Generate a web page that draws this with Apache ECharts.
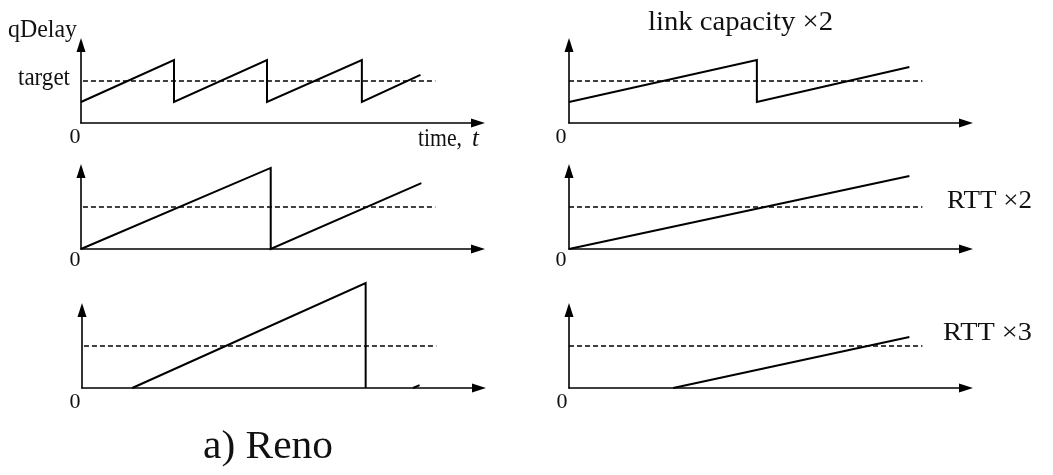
<!DOCTYPE html>
<html><head><meta charset="utf-8">
<script src="https://cdn.jsdelivr.net/npm/echarts@6/dist/echarts.min.js"></script>
<style>html,body{margin:0;padding:0;background:#fff}#c{width:1053px;height:475px}</style>
</head><body><div id="c"></div>
<script>
// ---------------- data (time in RTT units, qDelay in arbitrary units) ----------------
const targetLevel = 2;
const targetXLeft = [-0.065, 3.81];
const targetXRight = [-0.086, 3.80];

// top-left: Reno baseline
const baseX = [0, 1, 1, 2, 2, 3.02, 3.02, 3.65];
const baseY = [1, 3, 1, 3, 1, 3, 1, 2.29];
// top-right: link capacity x2
const linkCapX = [0, 2.02, 2.02, 3.66];
const linkCapY = [1, 3, 1, 2.67];
// middle-left
const rtt2LeftX = [0, 2.04, 2.04, 3.66];
const rtt2LeftY = [0, 3.86, 0, 3.14];
// middle-right: RTT x2
const rtt2RightX = [0, 3.66];
const rtt2RightY = [0, 3.48];
// bottom-left (two pieces)
const rtt3LeftX = [0.54, 3.05, 3.05];
const rtt3LeftY = [0, 5, 0];
const rtt3LeftTailX = [3.56, 3.63];
const rtt3LeftTailY = [0, 0.14];
// bottom-right: RTT x3
const rtt3RightX = [1.12, 3.66];
const rtt3RightY = [0, 2.43];

// text
const yAxisTitle = 'qDelay';
const targetLabel = 'target';
const xAxisTitle = 'time,';
const xAxisVar = 't';
const originLabel = '0';
const titleLinkCap = 'link capacity ×2';
const titleRtt2 = 'RTT ×2';
const titleRtt3 = 'RTT ×3';
const caption = 'a) Reno';

// ---------------- layout ----------------
const pxPerX = 93, pxPerY = 21, gridW = 397, gridH = 78;
const layout = [
  {left: 81, axisY: 123}, {left: 569, axisY: 123},
  {left: 81, axisY: 249}, {left: 569, axisY: 249},
  {left: 82, axisY: 388}, {left: 569, axisY: 388}
];
const panelSeries = [
  [[baseX, baseY]],
  [[linkCapX, linkCapY]],
  [[rtt2LeftX, rtt2LeftY]],
  [[rtt2RightX, rtt2RightY]],
  [[rtt3LeftX, rtt3LeftY], [rtt3LeftTailX, rtt3LeftTailY]],
  [[rtt3RightX, rtt3RightY]]
];
const zip = (xs, ys) => xs.map((x, i) => [x, ys[i]]);
const FONT = '"Liberation Serif", "Times New Roman", serif';

const grids = [], xAxes = [], yAxes = [], series = [];
const axisLine = {show: true, onZero: false, symbol: ['none', 'triangle'], symbolSize: [9, 14],
  lineStyle: {color: '#000', width: 1.6}};
layout.forEach((p, i) => {
  grids.push({left: p.left, top: p.axisY - gridH, width: gridW, height: gridH, containLabel: false});
  const common = {type: 'value', gridIndex: i, min: 0, axisLine: axisLine,
    axisTick: {show: false}, axisLabel: {show: false}, splitLine: {show: false}};
  xAxes.push(Object.assign({}, common, {max: gridW / pxPerX}));
  yAxes.push(Object.assign({}, common, {max: gridH / pxPerY}));
  const tx = (i % 2 === 0) ? targetXLeft : targetXRight;
  series.push({type: 'line', xAxisIndex: i, yAxisIndex: i, data: tx.map(x => [x, targetLevel]),
    showSymbol: false, clip: false, silent: true,
    lineStyle: {color: '#000', width: 1.3, type: [5, 3]}});
  panelSeries[i].forEach(([xs, ys]) => {
    series.push({type: 'line', xAxisIndex: i, yAxisIndex: i, data: zip(xs, ys),
      showSymbol: false, clip: false, silent: true,
      lineStyle: {color: '#000', width: 2, cap: 'butt', join: 'miter'}});
  });
});

// text fitting
const mctx = document.createElement('canvas').getContext('2d');
function txt(text, size, x, y, align, w, style) {
  const font = (style ? style + ' ' : '') + size + 'px ' + FONT;
  let sx = 1;
  if (w) { mctx.font = font; sx = w / mctx.measureText(text).width; }
  return {type: 'text', x: x, y: y, scaleX: sx, silent: true,
    style: {text: text, font: font, fill: '#111', align: align, textAlign: align,
      verticalAlign: 'middle', textVerticalAlign: 'middle'}};
}
const graphics = [
  txt(yAxisTitle, 25, 77, 30, 'right', 69),
  txt(targetLabel, 25, 70, 78, 'right', 52),
  txt(xAxisTitle, 25, 418, 139, 'left', 44),
  txt(xAxisVar, 25, 472, 139, 'left', null, 'italic'),
  txt(titleLinkCap, 27, 648, 23, 'left', 185),
  txt(titleRtt2, 26, 947, 201, 'left', 85),
  txt(titleRtt3, 26, 943, 333, 'left', 89),
  txt(caption, 40, 203, 447, 'left', 130),
  txt(originLabel, 22, 75, 137, 'center'),
  txt(originLabel, 22, 75, 260, 'center'),
  txt(originLabel, 22, 75, 402, 'center'),
  txt(originLabel, 22, 561, 137, 'center'),
  txt(originLabel, 22, 561, 260, 'center'),
  txt(originLabel, 22, 562, 402, 'center')
];

const chart = echarts.init(document.getElementById('c'), null, {renderer: 'canvas'});
chart.setOption({
  animation: false,
  backgroundColor: '#fff',
  grid: grids, xAxis: xAxes, yAxis: yAxes, series: series,
  graphic: graphics
});
</script>
</body></html>
